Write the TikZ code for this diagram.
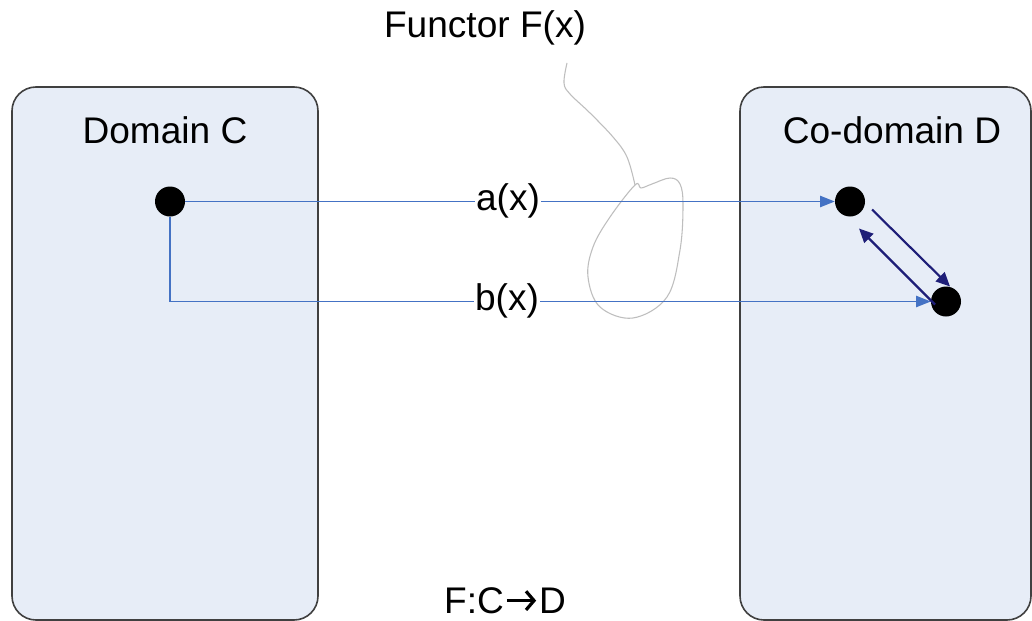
\documentclass[tikz,border=0pt]{standalone}
\usepackage{fontspec}
\setmainfont{Liberation Sans}
\usetikzlibrary{arrows.meta,calc}
\definecolor{boxfill}{RGB}{231,237,247}
\definecolor{boxline}{RGB}{64,64,64}
\definecolor{mapblue}{RGB}{68,114,196}
\definecolor{navy}{RGB}{30,30,120}
\definecolor{functgray}{RGB}{190,190,190}
\newcommand{\bigarrow}{\tikz[baseline=0pt]\draw[line width=2.4pt,-{Straight Barb[length=6pt,width=14pt,line width=2.4pt]}] (0pt,9.3pt) -- (22pt,9.3pt);}
\tikzset{
  catbox/.style={draw=boxline,line width=1.2pt,fill=boxfill,rounded corners=18pt},
  obj/.style={circle,fill=black,inner sep=0pt,minimum size=22.5pt},
  lbl/.style={font=\fontsize{27.8}{33}\selectfont,inner sep=0pt,anchor=base},
  maplbl/.style={lbl,fill=white,inner xsep=1pt,inner ysep=2pt},
  maparrow/.style={draw=mapblue,line width=1.1pt,-{Triangle[length=11pt,width=8.5pt]}},
  mapline/.style={draw=mapblue,line width=1.1pt},
  morph/.style={draw=navy,line width=1.6pt,-{Triangle[length=10.5pt,width=9.5pt]}},
}
\begin{document}
\begin{tikzpicture}[x=0.75pt,y=-0.75pt]
\useasboundingbox (0,0) rectangle (1032,621);
\fill[white] (0,0) rectangle (1032,621);
% boxes
\path[catbox] (12,87) rectangle (318,620);
\path[catbox] (740,87) rectangle (1031,620);
% titles
\node[lbl] (fun) at (485,37) {Functor F(x)};
\node[lbl] (dom) at (165,143) {Domain C};
\node[lbl] (cod) at (892,143) {Co-domain D};
\node[lbl] (fcd) at (505,613) {F:C\kern1pt\bigarrow\kern1ptD};
% functor squiggle
\draw[functgray,line width=0.8pt] plot[smooth,tension=0.6] coordinates {(567,63) (564,83) (570,94) (590,113) (613,137) (627,157) (635,185)};
\draw[functgray,line width=0.8pt] plot[smooth cycle,tension=0.6] coordinates {(635,185) (641,188) (652,184) (670,178) (680,184) (683,205) (680,250) (667,297) (633,318) (600,307) (588,277) (593,247) (610,217)};
% objects
\node[obj] (c) at (170,201.5) {};
\node[obj] (d1) at (850,201.5) {};
\node[obj] (d2) at (946,301.5) {};
% maps
\coordinate (bend) at (170,301.5);
\path[maparrow] (c) -- (d1);
\path[mapline] (c) -- (bend);
\path[maparrow] (bend) -- (d2);
\node[maplbl,anchor=center] (ax) at (508,201) {a(x)};
\node[maplbl,anchor=center] (bx) at (507,301) {b(x)};
% morphisms in D
\path[morph] ([shift={(22,8)}]d1.center) -- ([shift={(4,-15)}]d2.center);
\path[morph] ([shift={(-11,3)}]d2.center) -- ([shift={(9,27)}]d1.center);
\end{tikzpicture}
\end{document}
